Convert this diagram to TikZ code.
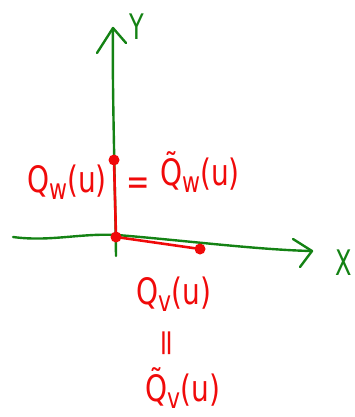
\documentclass[tikz,border=0pt]{standalone}
\usepackage{fontspec}
\setmainfont{DejaVu Sans}
\definecolor{axisgreen}{RGB}{20,130,20}
\definecolor{inkred}{RGB}{240,10,10}
\newcommand{\lowsub}[1]{\raisebox{-0.2em}{\fontsize{22}{22}\selectfont #1}}
\newcommand{\tildeQ}{Q̃}
\tikzset{
  axisline/.style={draw=axisgreen, line width=2.4pt, line cap=round, line join=round},
  redline/.style={draw=inkred, line width=2.6pt, line cap=round, line join=round},
  reddot/.style={circle, fill=inkred, inner sep=0pt, minimum size=11pt},
  redtext/.style={text=inkred, font=\fontsize{28}{32}\selectfont, inner sep=0pt, yscale=1.3},
  greentext/.style={text=axisgreen, font=\fontsize{32}{36}\selectfont, inner sep=0pt, xscale=0.75, yscale=1.1},
}
\begin{document}
\begin{tikzpicture}[x=1pt, y=-1pt]
\useasboundingbox (0,0) rectangle (354,417);
% axes
\coordinate (ybot) at (116,256);
\coordinate (ytop) at (113,28);
\coordinate (yb1) at (97,53);
\coordinate (yb2) at (126,43);
\coordinate (xleft) at (13,237);
\coordinate (xtip) at (312,251);
\coordinate (xb1) at (293,239);
\coordinate (xb2) at (300,267);
\draw[axisline] (ybot) .. controls (115,180) and (112,80) .. (ytop);
\draw[axisline] (yb1) -- (ytop) -- (yb2);
\draw[axisline] (xleft) .. controls (50,242) and (80,233) .. (117,235) .. controls (180,240) and (260,250) .. (xtip);
\draw[axisline] (xb1) -- (xtip) -- (xb2);
\node[greentext] (ylab) at (137,27) {Y};
\node[greentext] (xlab) at (344,263) {X};
% red points and path
\node[reddot] (pw) at (114,160) {};
\node[reddot] (po) at (116,237) {};
\node[reddot] (pv) at (200,249) {};
\draw[redline] (pw) -- (po.center) -- (pv);
% labels
\node[redtext] (lw) at (67,182) {Q\lowsub{w}(u)};
\node[redtext] (eqw) at (138,186) {=};
\node[redtext] (lwt) at (200,172) {\tildeQ\lowsub{w}(u)};
\node[redtext] (lv) at (174,294) {Q\lowsub{v}(u)};
\node[redtext, rotate=90] (eqv) at (169,343) {=};
\node[redtext] (lvt) at (183,388) {\tildeQ\lowsub{v}(u)};
\end{tikzpicture}
\end{document}
